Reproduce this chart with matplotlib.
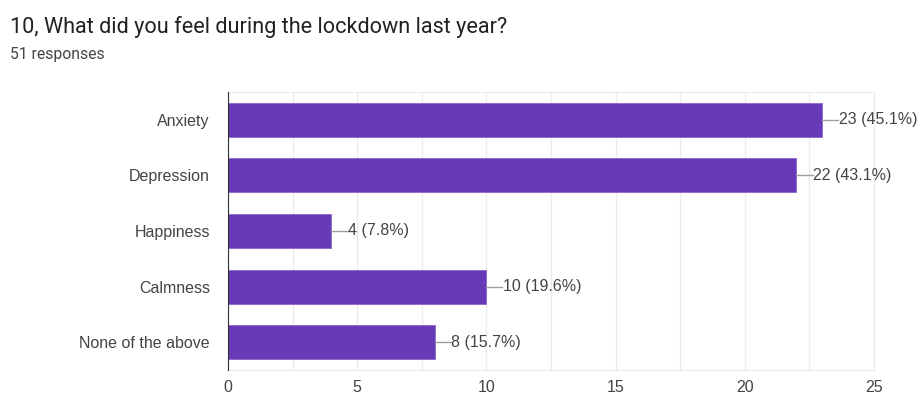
import matplotlib.pyplot as plt

plt.rcParams['font.family'] = ['Roboto', 'DejaVu Sans']

# Respostas da pergunta 10
categorias = ['Anxiety', 'Depression', 'Happiness', 'Calmness', 'None of the above']
contagens = [23, 22, 4, 10, 8]
percentuais = [45.1, 43.1, 7.8, 19.6, 15.7]
total_respostas = 51
ticks_x = [0, 5, 10, 15, 20, 25]

fonte_eixo = ['Liberation Sans', 'DejaVu Sans']

fig = plt.figure(figsize=(9.19, 3.94), dpi=100)
ax = fig.add_axes([228 / 919, 1 - 370 / 394, 646 / 919, 278 / 394])

pos = list(range(len(categorias)))
ax.barh(pos, contagens, height=0.61, color='#673ab7', edgecolor='#8e63ce',
        linewidth=0.6, zorder=3)

# Rótulo de cada barra com uma linha guia curta
for p, c, pct in zip(pos, contagens, percentuais):
    ax.plot([c, c + 0.62], [p, p], color='#9e9e9e', lw=1, zorder=3)
    ax.text(c + 0.64, p, f'{c} ({pct}%)', va='center', ha='left',
            fontsize=11.5, color='#444444', family=fonte_eixo)

ax.set_ylim(len(categorias) - 0.5, -0.5)
ax.set_xlim(0, 25)
ax.set_yticks(pos)
ax.set_yticklabels(categorias, fontsize=11.5, color='#444444', family=fonte_eixo)
ax.set_xticks(ticks_x)
ax.set_xticklabels([str(t) for t in ticks_x], fontsize=11.5, color='#444444',
                   family=fonte_eixo)
ax.set_xticks([2.5, 7.5, 12.5, 17.5, 22.5], minor=True)
ax.tick_params(axis='both', which='both', length=0)
ax.tick_params(axis='y', pad=13)
ax.tick_params(axis='x', pad=7)

ax.grid(axis='x', which='both', color='#ebebeb', lw=1, zorder=0)
for lado in ['top', 'right', 'bottom']:
    ax.spines[lado].set_color('#ebebeb')
ax.spines['left'].set_color('#333333')
ax.spines['left'].set_zorder(4)

fig.text(10 / 919, 1 - 27 / 394, '10, What did you feel during the lockdown last year?',
         fontsize=15.6, color='#202124', va='center', ha='left')
fig.text(10 / 919, 1 - 55 / 394, f'{total_respostas} responses',
         fontsize=11.3, color='#444444', va='center', ha='left')

fig.savefig('out.png', dpi=100)
